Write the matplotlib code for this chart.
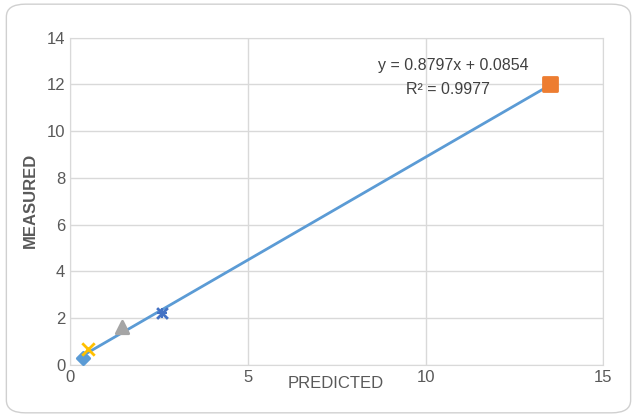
import matplotlib.pyplot as plt
from matplotlib.patches import FancyBboxPatch

plt.rcParams['font.family'] = 'Liberation Sans'
plt.rcParams['font.size'] = 12

# points (predicted, measured)
px = [0.35, 13.5, 1.45, 2.6, 0.5]
py = [0.3, 12.0, 1.6, 2.2, 0.7]
markers = ['D', 's', '^', 'x', 'x']
colors = ['#5b9bd5', '#ed7d31', '#a5a5a5', '#4472c4', '#ffc000']
sizes = [40, 110, 80, 60, 80]

slope, intercept = 0.8797, 0.0854

fig = plt.figure(figsize=(6.37, 4.17), dpi=100)
border = FancyBboxPatch((0.01, 0.01), 0.98, 0.98, boxstyle='round,pad=0,rounding_size=0.03',
                        transform=fig.transFigure, fc='white', ec='#d0d0d0', lw=1, zorder=-10)
fig.patches.append(border)
ax = fig.add_axes([0.11, 0.125, 0.837, 0.785])
ax.patch.set_alpha(0)

xs = [min(px), max(px)]
ax.plot(xs, [slope * x + intercept for x in xs], color='#5b9bd5', lw=2, zorder=2)
for x, y, m, c, s in zip(px, py, markers, colors, sizes):
    ax.scatter(x, y, marker=m, color=c, s=s, linewidths=2, zorder=3)
ax.scatter(2.6, 2.2, marker='+', color='#4472c4', s=60, linewidths=1.5, zorder=3)

ax.set_xlim(0, 15)
ax.set_ylim(0, 14)
ax.set_xticks(range(0, 16, 5))
ax.set_yticks(range(0, 15, 2))
ax.grid(color='#d9d9d9', lw=1)
ax.set_axisbelow(True)
for s in ax.spines.values():
    s.set_color('#d9d9d9')
ax.tick_params(length=0, colors='#595959', labelsize=12)

ax.text(12.9, 12.6, f'y = {slope}x + {intercept}', ha='right', fontsize=11.5, color='#404040')
ax.text(11.8, 11.6, 'R² = 0.9977', ha='right', fontsize=11.5, color='#404040')
fig.text(0.527, 0.07, 'PREDICTED', ha='center', fontsize=12, color='#595959')
fig.text(0.048, 0.52, 'MEASURED', rotation=90, va='center', ha='center', fontsize=12,
         color='#595959', fontweight='bold')

fig.savefig('out.png', dpi=100)
